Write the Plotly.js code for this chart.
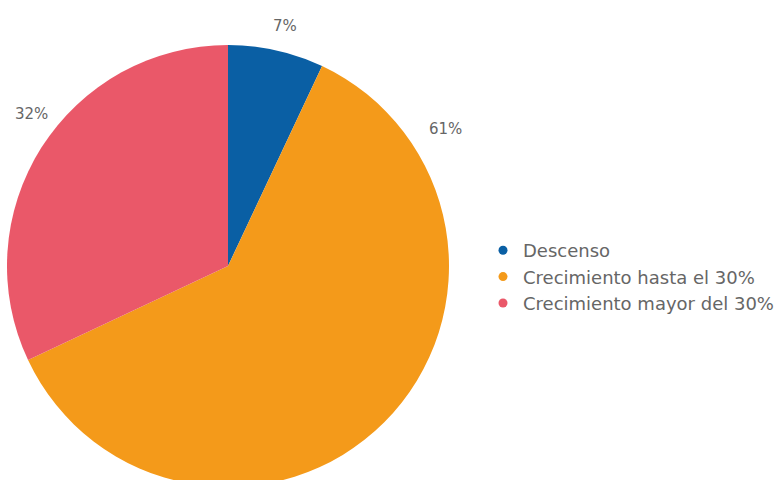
<!DOCTYPE html>
<html><head><meta charset="utf-8">
<script src="https://cdn.plot.ly/plotly-3.0.1.min.js"></script>
<style>html,body{margin:0;padding:0;overflow:hidden;background:#fff}#chart{width:780px;height:490px}</style>
</head><body><div id="chart"></div>
<script>
const categories = ["Descenso", "Crecimiento hasta el 30%", "Crecimiento mayor del 30%"];
const values = [7, 61, 32];
const colors = ["#0a5fa4", "#f49a1a", "#ea5869"];
const pctLabels = ["7%", "61%", "32%"];
// label pixel positions in the picture (text, not marks)
const labelPx = [[285, 26], [445, 129], [31, 114]];

const W = 780, H = 492, mL = 7, mT = 45, mB = 5, mR = 0;
const pw = W - mL - mR, ph = H - mT - mB;

const traces = [{
  type: "pie",
  labels: categories,
  values: values,
  marker: {colors: colors, line: {width: 0}},
  sort: false,
  direction: "clockwise",
  rotation: 0,
  textinfo: "none",
  hoverinfo: "none",
  showlegend: false,
  domain: {x: [0, 442 / pw], y: [0, 1]}
}];
categories.forEach((c, i) => {
  traces.push({type: "scatter", mode: "markers", x: [null], y: [null], name: c,
    marker: {color: colors[i], size: 9, symbol: "circle"}, hoverinfo: "none"});
});

const annotations = pctLabels.map((t, i) => ({
  text: t, xref: "paper", yref: "paper",
  x: (labelPx[i][0] - mL) / pw, y: 1 - (labelPx[i][1] - mT) / ph,
  xanchor: "center", yanchor: "middle", showarrow: false,
  font: {family: "DejaVu Sans, sans-serif", size: 15, color: "#666666"}
}));

Plotly.newPlot("chart", traces, {
  width: W, height: H,
  margin: {l: mL, r: mR, t: mT, b: mB},
  paper_bgcolor: "#fff", plot_bgcolor: "#fff",
  xaxis: {visible: false}, yaxis: {visible: false},
  showlegend: true,
  legend: {x: (483 - mL) / pw, y: 1 - (277 - mT) / ph, xanchor: "left", yanchor: "middle",
    font: {family: "DejaVu Sans, sans-serif", size: 18, color: "#666666"},
    tracegroupgap: 0, itemwidth: 30},
  annotations: annotations
}, {staticPlot: true});
</script></body></html>
